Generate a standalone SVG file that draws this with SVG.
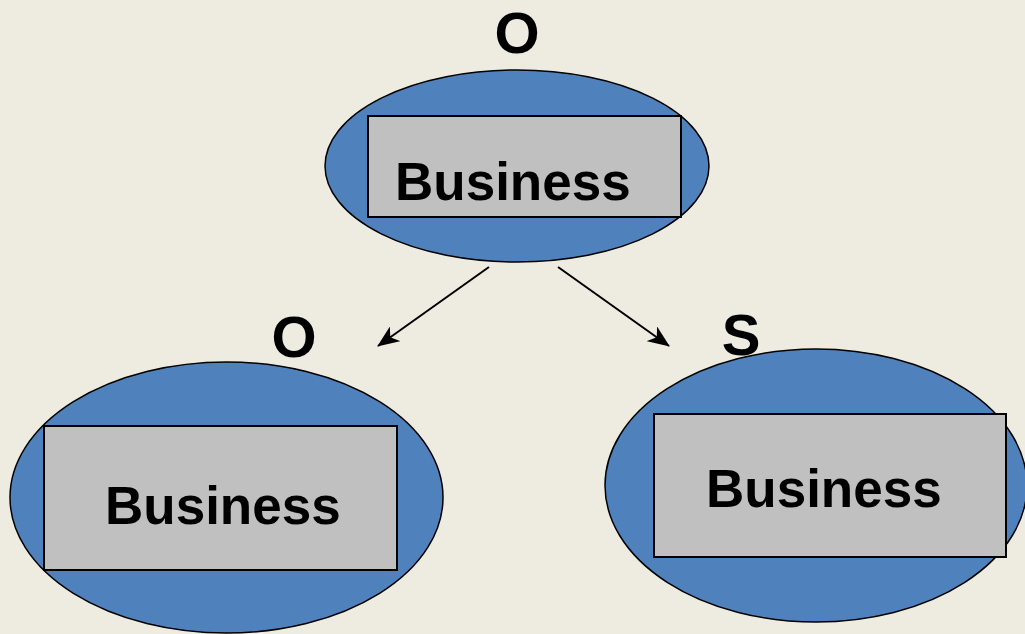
<svg xmlns="http://www.w3.org/2000/svg" width="1025" height="634" viewBox="0 0 1025 634">
<style>
.ell{fill:#4F81BD;stroke:#000;stroke-width:1.5}
.box{fill:#C0C0C0;stroke:#000;stroke-width:2}
.lbl{font-family:"Liberation Sans",Arial,sans-serif;font-weight:bold;font-size:53px;fill:#000}
.tag{font-family:"Liberation Sans",Arial,sans-serif;font-weight:bold;font-size:58px;fill:#000;text-anchor:middle}
.conn{stroke:#000;stroke-width:2;fill:none}
</style>
<defs>
<marker id="ah" viewBox="0 0 22 18" refX="21" refY="9" markerWidth="22" markerHeight="18" markerUnits="userSpaceOnUse" orient="auto">
<path d="M0,0 L22,9 L0,18 L6,9 Z" fill="#000"/>
</marker>
</defs>
<rect width="1025" height="634" fill="#EEECE1"/>
<g id="node-top">
<ellipse class="ell" cx="517" cy="166" rx="192" ry="96"/>
<rect class="box" x="368" y="116" width="313" height="101"/>
<text class="lbl" x="395" y="200">Business</text>
<text class="tag" x="517" y="53">O</text>
</g>
<g id="node-left">
<ellipse class="ell" cx="226.5" cy="497.5" rx="216.5" ry="135.5"/>
<rect class="box" x="44" y="426" width="353" height="144"/>
<text class="lbl" x="105" y="524">Business</text>
<text class="tag" x="294" y="357">O</text>
</g>
<g id="node-right">
<ellipse class="ell" cx="816" cy="485.5" rx="211" ry="136.5"/>
<rect class="box" x="654" y="414" width="352" height="143"/>
<text class="lbl" x="706" y="507">Business</text>
<text class="tag" x="741" y="355">S</text>
</g>
<g id="connectors">
<line class="conn" x1="489" y1="267" x2="378" y2="346" marker-end="url(#ah)"/>
<line class="conn" x1="558" y1="267" x2="669" y2="346" marker-end="url(#ah)"/>
</g>
</svg>
